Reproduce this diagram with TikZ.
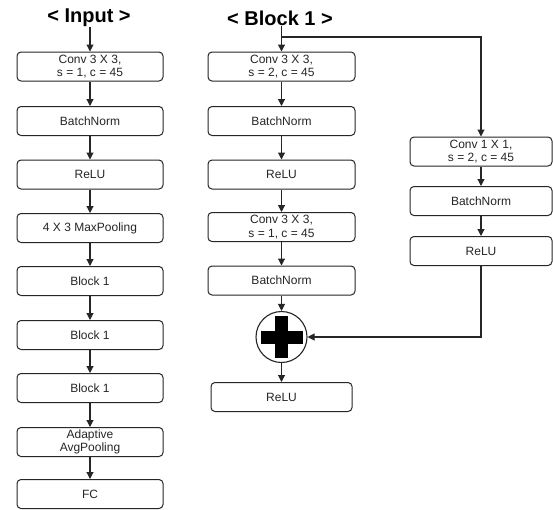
\documentclass[tikz,border=0pt]{standalone}
\usepackage{fontspec}
\setmainfont{Liberation Sans}
\usetikzlibrary{arrows.meta,calc}
\tikzset{
  box/.style={draw=black!85, line width=1pt, rounded corners=4pt, minimum height=29pt,
    inner sep=0pt, align=center, font=\fontsize{12}{13.5}\selectfont, text=black!85},
  arr/.style={line width=1.1pt, draw=black!85, -{Triangle[length=7pt,width=7pt]}},
  ttl/.style={font=\fontsize{20}{22}\selectfont\bfseries, inner sep=0pt}
}
\begin{document}
\begin{tikzpicture}[x=1pt,y=-1pt]
\useasboundingbox[fill=white] (0,0) rectangle (553,509);
% titles
\node[ttl] (tin) at (89,18) {< Input >};
\node[ttl] (tbl) at (280,18) {< Block 1 >};
% left column
\node[box, minimum width=146pt] (l1) at (90,66.5) {Conv 3 X 3,\\s = 1, c = 45};
\node[box, minimum width=146pt] (l2) at (90,121) {BatchNorm};
\node[box, minimum width=146pt] (l3) at (90,174.5) {ReLU};
\node[box, minimum width=146pt] (l4) at (90,228) {4 X 3 MaxPooling};
\node[box, minimum width=146pt] (l5) at (90,281) {Block 1};
\node[box, minimum width=146pt] (l6) at (90,335) {Block 1};
\node[box, minimum width=146pt] (l7) at (90,388) {Block 1};
\node[box, minimum width=146pt] (l8) at (90,442) {Adaptive\\AvgPooling};
\node[box, minimum width=146pt] (l9) at (90,494) {FC};
% middle column
\node[box, minimum width=147pt] (m1) at (281.5,66.5) {Conv 3 X 3,\\s = 2, c = 45};
\node[box, minimum width=147pt] (m2) at (281.5,121) {BatchNorm};
\node[box, minimum width=147pt] (m3) at (281.5,174.5) {ReLU};
\node[box, minimum width=147pt] (m4) at (281.5,227) {Conv 3 X 3,\\s = 1, c = 45};
\node[box, minimum width=147pt] (m5) at (281.5,280.5) {BatchNorm};
\node[circle, draw=black!85, line width=1.1pt, minimum size=51pt, inner sep=0pt] (plus) at (281.5,337) {};
\fill[black] ($(plus.center)+(-21,-6.5)$) rectangle ($(plus.center)+(21,6.5)$);
\fill[black] ($(plus.center)+(-6.5,-21)$) rectangle ($(plus.center)+(6.5,21)$);
\node[box, minimum width=141pt] (m6) at (281.5,397) {ReLU};
% right column
\node[box, minimum width=142pt] (r1) at (481,151.5) {Conv 1 X 1,\\s = 2, c = 45};
\node[box, minimum width=142pt] (r2) at (481,201) {BatchNorm};
\node[box, minimum width=142pt] (r3) at (481,251) {ReLU};
% connectors
\draw[arr] (tin.south -| l1.north) -- (l1.north);
\foreach \a/\b in {l1/l2,l2/l3,l3/l4,l4/l5,l5/l6,l6/l7,l7/l8,l8/l9,m1/m2,m2/m3,m3/m4,m4/m5,r1/r2,r2/r3}
  \draw[arr] (\a.south) -- (\b.north);
\draw[arr] (m5.south) -- (plus.north);
\draw[arr] (plus.south) -- (m6.north);
\draw[arr] (tbl.south -| m1.north) -- (m1.north);
\coordinate (br) at (281.5,37);
\draw[arr] (br) -- (481,37) -- (r1.north);
\draw[arr] (r3.south) -- (r3.south |- plus.east) -- (plus.east);
\end{tikzpicture}
\end{document}
